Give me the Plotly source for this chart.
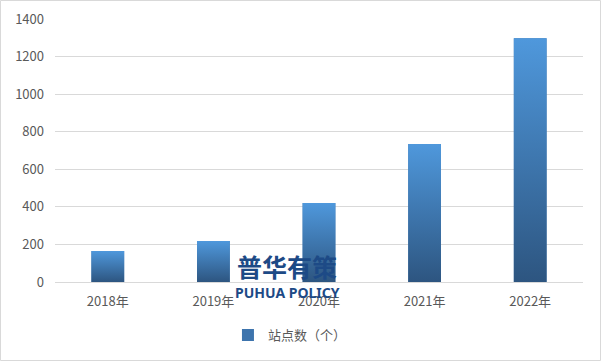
import plotly.graph_objects as go

categories = ["2018年", "2019年", "2020年", "2021年", "2022年"]
values = [165, 218, 420, 734, 1298]
series_name = "站点数（个）"
y_ticks = [0, 200, 400, 600, 800, 1000, 1200, 1400]

bar_width = 0.31
font_family = "Microsoft YaHei, Noto Sans CJK SC, sans-serif"

fig = go.Figure()
x_pos = list(range(len(categories)))

# real bars (legend + base colour)
fig.add_trace(go.Bar(
    x=x_pos, y=values, width=bar_width, name=series_name,
    marker=dict(color="#3d74ad", line=dict(width=0)),
    customdata=categories, hovertemplate="%{customdata}: %{y}<extra></extra>",
))

# vertical gradient overlay on each bar, built from the same data
for i, v in enumerate(values):
    x0, x1 = i - bar_width / 2, i + bar_width / 2
    fig.add_trace(go.Scatter(
        x=[x0, x0, x1, x1, x0],
        y=[0, v, v, 0, 0],
        mode="lines",
        line=dict(width=0, color="#3f78b5"),
        fill="toself",
        fillgradient=dict(type="vertical",
                          colorscale=[[0, "#2d5580"], [1, "#4f98dc"]]),
        showlegend=False,
        hoverinfo="skip",
    ))

wm_x = (287 - 55) / 528
fig.add_annotation(text="<b>普华有策</b>", x=wm_x, y=0, xref="paper", yref="y",
                   xanchor="center", yanchor="bottom", showarrow=False,
                   font=dict(size=25, color="#1d4a86", family="Noto Sans CJK SC"),
                   yshift=-4)
fig.add_annotation(text="<b>PUHUA POLICY</b>", x=wm_x, y=0, xref="paper", yref="y",
                   xanchor="center", yanchor="top", showarrow=False,
                   font=dict(size=14, color="#1d4a86", family="Noto Sans, sans-serif"),
                   yshift=1)

fig.update_layout(
    width=601, height=361,
    margin=dict(l=55, r=18, t=19, b=79, autoexpand=False),
    paper_bgcolor="white", plot_bgcolor="white",
    font=dict(family=font_family, size=13, color="#595959"),
    showlegend=True,
    legend=dict(orientation="h", x=0.445, xanchor="center", y=-0.145, yanchor="top",
                font=dict(size=13, color="#595959"), itemwidth=30),
    shapes=[dict(type="rect", xref="paper", yref="paper", x0=-54.5/528, x1=1 + 17.5/528,
                 y0=-78.5/263, y1=1 + 18.5/263, line=dict(color="#d9d9d9", width=1))],
)
fig.update_xaxes(range=[-0.5, 4.5], tickvals=x_pos,
                 ticktext=categories, showgrid=False, zeroline=False,
                 showline=True, linecolor="#d9d9d9", ticks="", fixedrange=True,
                 automargin=False, ticklabelstandoff=7)
fig.update_yaxes(range=[0, 1400], tickvals=y_ticks, showgrid=True,
                 gridcolor="#d9d9d9", zeroline=False, showline=False, ticks="",
                 ticklabelstandoff=10, fixedrange=True, automargin=False)

fig.write_html("out.html", config={"displayModeBar": False},
               post_script="document.body.style.margin='0';document.body.style.padding='0';")
